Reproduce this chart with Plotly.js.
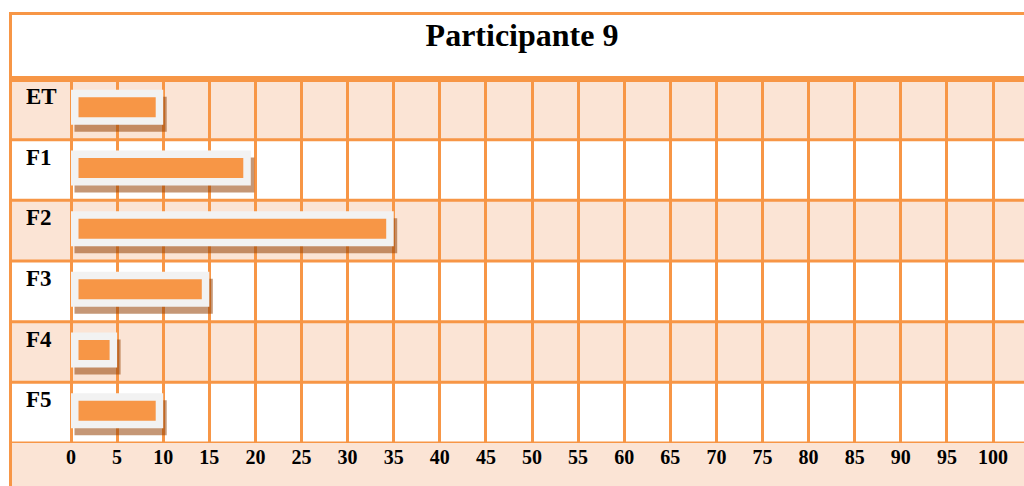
<!DOCTYPE html>
<html>
<head>
<meta charset="utf-8">
<script src="https://cdn.plot.ly/plotly-3.0.1.min.js"></script>
<style>
  html, body { margin: 0; padding: 0; background: #ffffff; }
  #chart { width: 1024px; height: 486px; }
</style>
</head>
<body>
<div id="chart"></div>
<script>
// Phases of the session and time spent in each one
const phases = ['ET', 'F1', 'F2', 'F3', 'F4', 'F5'];
const durations = [10, 19.5, 35, 15, 5, 10];
const tickValues = [0, 5, 10, 15, 20, 25, 30, 35, 40, 45, 50, 55, 60, 65, 70, 75, 80, 85, 90, 95, 100];
const chartTitle = 'Participante 9';

// Palette
const ORANGE = '#F79646';
const SHADE = '#FBE4D5';
const FRAME = '#F2F2F2';
const SHADOW = 'rgba(150,65,5,0.55)';
const SERIF = '"Liberation Serif", "Times New Roman", serif';

// Page geometry (pixels)
const W = 1024, H = 486;
const M = { l: 11, r: 0, t: 79, b: 43 };
const plotW = W - M.l - M.r;
const plotH = H - M.t - M.b;
const px = x => (x - M.l) / plotW;            // pixel -> paper x
const py = y => (M.t + plotH - y) / plotH;     // pixel -> paper y

// value axis: 0 sits on the column rule at x=71, 100 on the rule at x=993
const unit = (993 - 71) / 100;                // pixels per minute
const xMin = -(71 - M.l) / unit;
const xMax = 100 + (W - M.r - 993) / unit;
const rowPx = plotH / phases.length;          // pixels per row

// Bar styling
const FRAME_W = 35 / rowPx;     // light frame thickness (category units)
const INNER_W = 20 / rowPx;     // orange bar thickness (category units)
const INSET = 7.5 / unit;       // frame margin around the orange bar (value units)
const SHADOW_DX = 3.5 / unit;   // shadow shift to the right (value units)
const SHADOW_DY = 7 / rowPx;    // shadow shift downwards (category units)
const LIFT = -2 / rowPx;        // bars sit slightly above the row centre

const shadowTrace = {
  type: 'bar', orientation: 'h',
  y: phases, x: durations,
  base: SHADOW_DX,
  width: FRAME_W,
  offset: -FRAME_W / 2 + SHADOW_DY + LIFT,
  marker: { color: SHADOW, line: { width: 0 } },
  hoverinfo: 'skip', showlegend: false
};

const frameTrace = {
  type: 'bar', orientation: 'h',
  y: phases, x: durations,
  base: 0,
  width: FRAME_W,
  offset: -FRAME_W / 2 + LIFT,
  marker: { color: FRAME, line: { width: 0 } },
  hoverinfo: 'skip', showlegend: false
};

const barTrace = {
  type: 'bar', orientation: 'h',
  y: phases, x: durations.map(d => d - 2 * INSET),
  base: INSET,
  width: INNER_W,
  offset: -INNER_W / 2 + LIFT,
  marker: { color: ORANGE, line: { width: 0 } },
  customdata: durations,
  hovertemplate: '%{y}: %{customdata}<extra></extra>',
  showlegend: false
};

// Table-like background: alternating row shading and row separators
const shapes = [];
phases.forEach((p, i) => {
  if (i % 2 === 0) {
    shapes.push({
      type: 'rect', layer: 'below', xref: 'paper', yref: 'y',
      x0: 0, x1: 1, y0: i - 0.5, y1: i + 0.5,
      fillcolor: SHADE, line: { width: 0 }
    });
  }
});
// shaded strip holding the value labels
shapes.push({
  type: 'rect', layer: 'below', xref: 'paper', yref: 'paper',
  x0: 0, x1: 1, y0: py(H + 5), y1: 0,
  fillcolor: SHADE, line: { width: 0 }
});
for (let i = 0; i < phases.length; i++) {
  shapes.push({
    type: 'line', layer: 'below', xref: 'paper', yref: 'y',
    x0: 0, x1: 1, y0: i + 0.5, y1: i + 0.5,
    line: { color: ORANGE, width: 3 }
  });
}
// outer frame: top edge, left edge and the heavy rule under the title
shapes.push({
  type: 'rect', layer: 'above', xref: 'paper', yref: 'paper',
  x0: px(9), x1: px(W + 5), y0: py(15), y1: py(12),
  fillcolor: ORANGE, line: { width: 0 }
});
shapes.push({
  type: 'rect', layer: 'above', xref: 'paper', yref: 'paper',
  x0: px(9), x1: px(12), y0: py(H + 5), y1: py(12),
  fillcolor: ORANGE, line: { width: 0 }
});
shapes.push({
  type: 'rect', layer: 'above', xref: 'paper', yref: 'paper',
  x0: px(9), x1: px(W + 5), y0: py(82), y1: py(76),
  fillcolor: ORANGE, line: { width: 0 }
});

// Phase names in the left column
const annotations = phases.map(p => ({
  xref: 'paper', yref: 'y',
  x: px(24), y: p, xanchor: 'left', yanchor: 'middle',
  yshift: 13,
  text: p, showarrow: false,
  font: { family: SERIF, size: 23, color: '#000000', weight: 'bold' }
}));

const layout = {
  width: W, height: H,
  margin: M,
  paper_bgcolor: '#ffffff',
  plot_bgcolor: '#ffffff',
  barmode: 'overlay',
  showlegend: false,
  title: {
    text: chartTitle,
    font: { family: SERIF, size: 32, color: '#000000', weight: 'bold' },
    xref: 'container', x: 522 / W, xanchor: 'center',
    yref: 'container', y: 1 - 35 / H, yanchor: 'middle'
  },
  xaxis: {
    range: [xMin, xMax],
    tickmode: 'array',
    tickvals: tickValues,
    ticktext: tickValues.map(String),
    showgrid: true, gridcolor: ORANGE, gridwidth: 3,
    zeroline: false, showline: false,
    ticks: '',
    tickfont: { family: SERIF, size: 20, color: '#000000', weight: 'bold' },
    fixedrange: true
  },
  yaxis: {
    type: 'category',
    categoryorder: 'array',
    categoryarray: phases,
    range: [phases.length - 0.5, -0.5],
    showticklabels: false, showgrid: false, zeroline: false, showline: false,
    ticks: '',
    fixedrange: true
  },
  shapes: shapes,
  annotations: annotations
};

Plotly.newPlot('chart', [shadowTrace, frameTrace, barTrace], layout, { displayModeBar: false, staticPlot: true });
</script>
</body>
</html>
